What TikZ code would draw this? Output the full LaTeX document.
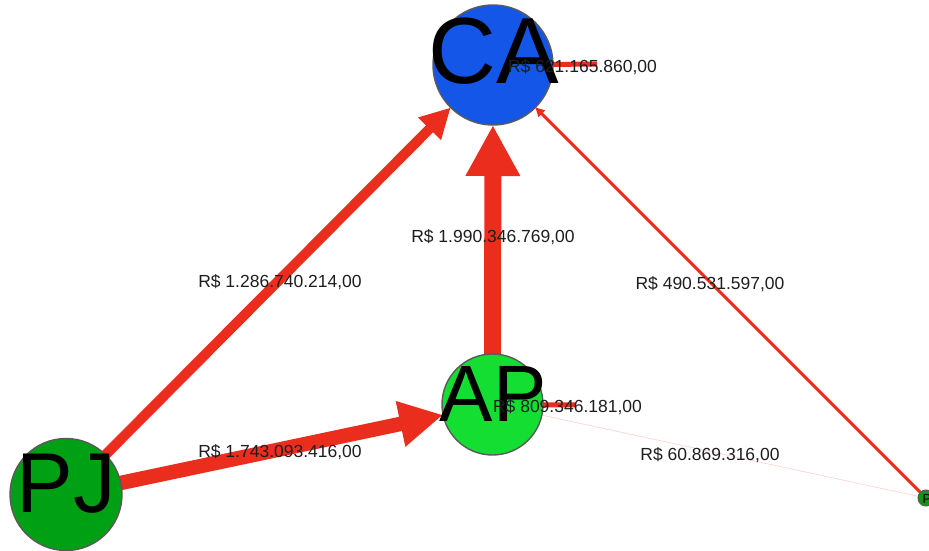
\documentclass[tikz,border=0pt]{standalone}
\usepackage{fontspec}
\setmainfont{Liberation Sans}
\usetikzlibrary{arrows.meta,backgrounds}
\definecolor{edgered}{RGB}{235,45,30}
\definecolor{cablue}{RGB}{19,86,232}
\definecolor{apgreen}{RGB}{20,222,50}
\definecolor{pjgreen}{RGB}{0,160,20}
\definecolor{pgreen}{RGB}{17,150,17}
\definecolor{labgray}{RGB}{30,30,30}
\definecolor{rimgray}{RGB}{90,90,90}
\tikzset{
  vertex/.style={circle, inner sep=0pt, outer sep=0pt, draw=rimgray, line width=1.4pt},
  bigtext/.style={anchor=base, inner sep=0pt, text=black},
  edge/.style={draw=edgered, -{Triangle[length=0pt 3, width=0pt 3]}},
  loopedge/.style={draw=edgered, line width=5pt},
  lab/.style={font=\fontsize{17.5}{18}\selectfont, text=labgray, inner sep=0pt}
}
\begin{document}
\begin{tikzpicture}[x=1pt, y=-1pt]
\useasboundingbox (0,0) rectangle (929,551);
\clip (0,0) rectangle (929,551);
% vertices
\node[vertex, fill=cablue, minimum size=120pt] (CA) at (493,65) {};
\node[vertex, fill=apgreen, minimum size=101pt] (AP) at (492.5,404.5) {};
\node[vertex, fill=pjgreen, minimum size=112pt] (PJ) at (66,494.5) {};
\node[vertex, fill=pgreen, minimum size=16pt, line width=1pt] (P) at (926,498) {};
\coordinate (CAloop) at (597,64);
\coordinate (APloop) at (576,405);
% edges
\begin{scope}[on background layer]
\draw[edge, line width=17pt] (AP) -- (CA);
\draw[edge, line width=14.5pt] (PJ) -- (AP);
\draw[edge, line width=10pt] (PJ) -- (CA);
\draw[edge, line width=3pt] (P) -- (CA);
\draw[draw=edgered!18, line width=0.8pt] (AP) -- (P);
\draw[loopedge] (CA) -- (CAloop);
\draw[loopedge] (AP) -- (APloop);
\end{scope}
% vertex texts
\node[bigtext, font=\fontsize{94}{94}\selectfont] (CAt) at (494,83) {CA};
\node[bigtext, font=\fontsize{80}{80}\selectfont] (APt) at (493,421) {AP};
\node[bigtext, font=\fontsize{85}{85}\selectfont] (PJt) at (66,512) {PJ};
\node[bigtext, font=\fontsize{13}{13}\selectfont] (Pt) at (927,503) {P};
% edge labels
\node[lab] (l1) at (582.5,67) {R\$ 621.165.860,00};
\node[lab] (l2) at (493,237) {R\$ 1.990.346.769,00};
\node[lab] (l3) at (280,282) {R\$ 1.286.740.214,00};
\node[lab] (l4) at (710,284) {R\$ 490.531.597,00};
\node[lab] (l5) at (567.5,407) {R\$ 809.346.181,00};
\node[lab] (l6) at (280,452) {R\$ 1.743.093.416,00};
\node[lab] (l7) at (710,455) {R\$ 60.869.316,00};
\end{tikzpicture}
\end{document}
